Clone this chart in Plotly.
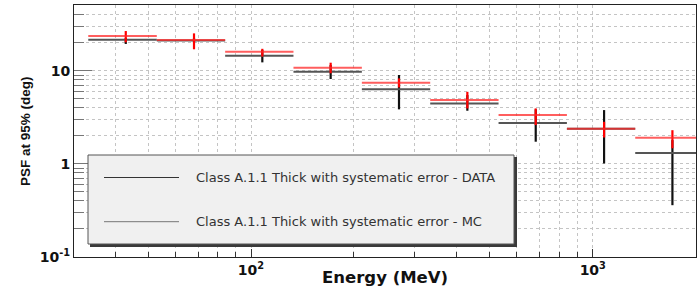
import plotly.graph_objects as go

# ---- data ----
energy_center = [43.0, 68.1, 107.9, 171.0, 271.0, 429.5, 680.8, 1079.0, 1710.0]
bin_low = [33.4, 53.0, 84.0, 133.1, 211.0, 334.4, 530.0, 840.0, 1331.0]
bin_high = [53.0, 84.0, 133.1, 211.0, 334.4, 530.0, 840.0, 1331.0, 2110.0]

data_psf = [23.6, 21.4, 16.0, 10.8, 7.43, 4.84, 3.34, 2.38, 1.91]
data_upper = [26.7, 25.2, 17.2, 12.2, 8.28, 5.94, 3.94, 2.83, 2.30]
data_lower = [20.2, 17.0, 14.2, 9.4, 6.62, 3.94, 2.61, 1.92, 1.47]

mc_psf = [21.5, 21.1, 14.5, 9.76, 6.31, 4.46, 2.74, 2.38, 1.31]
mc_upper = [22.5, 22.4, 16.7, 11.5, 9.0, 5.48, 3.85, 3.78, 1.80]
mc_lower = [19.4, 20.0, 12.3, 8.15, 3.85, 3.72, 1.73, 1.01, 0.36]

x_tick_vals = [100, 1000]
x_tick_text = ["10<sup>2</sup>", "10<sup>3</sup>"]
x_minor_vals = [40, 50, 60, 70, 80, 90, 200, 300, 400, 500, 600, 700, 800, 900, 2000]
y_tick_vals = [0.1, 1, 10]
y_tick_text = ["10<sup>-1</sup>", "1", "10"]
y_minor_vals = [0.2, 0.3, 0.4, 0.5, 0.6, 0.7, 0.8, 0.9,
                2, 3, 4, 5, 6, 7, 8, 9, 20, 30, 40, 50]

legend_labels = ["Class A.1.1 Thick with systematic error - DATA",
                 "Class A.1.1 Thick with systematic error - MC"]

W, H = 698, 286
ML, MR, MT, MB = 74, 2, 5, 29
PW, PH = W - ML - MR, H - MT - MB


def px(x):
    return (x - ML) / PW


def py(y):
    return (H - MB - y) / PH


def errs(center, lo, hi):
    return ([h - c for c, h in zip(center, hi)], [c - l for c, l in zip(center, lo)])


fig = go.Figure()

mx_p, mx_m = errs(energy_center, bin_low, bin_high)
my_p, my_m = errs(mc_psf, mc_lower, mc_upper)
fig.add_trace(go.Scatter(
    x=energy_center, y=mc_psf, mode="markers",
    marker=dict(size=1, color="rgba(0,0,0,0)"),
    error_x=dict(type="data", symmetric=False, array=mx_p, arrayminus=mx_m,
                 color="#555555", thickness=2, width=0),
    error_y=dict(type="data", symmetric=False, array=my_p, arrayminus=my_m,
                 color="#111111", thickness=2.2, width=0),
    showlegend=False, hoverinfo="skip"))

dy_p, dy_m = errs(data_psf, data_lower, data_upper)
fig.add_trace(go.Scatter(
    x=energy_center, y=data_psf, mode="markers",
    marker=dict(size=1, color="rgba(0,0,0,0)"),
    error_x=dict(type="data", symmetric=False, array=mx_p, arrayminus=mx_m,
                 color="rgba(255,40,40,0.75)", thickness=2, width=0),
    error_y=dict(type="data", symmetric=False, array=dy_p, arrayminus=dy_m,
                 color="#ff0000", thickness=2.2, width=0),
    showlegend=False, hoverinfo="skip"))

grid = dict(showgrid=True, gridcolor="#c4c4c4", gridwidth=1, griddash="dot")

fig.update_xaxes(
    type="log", range=[1.482, 3.302],
    tickmode="array", tickvals=x_tick_vals, ticktext=x_tick_text,
    ticks="inside", ticklen=8, tickcolor="#333", tickwidth=1,
    tickfont=dict(family="DejaVu Sans", size=14, color="#111", weight="bold"),
    showline=True, linecolor="#222", linewidth=1, mirror=True,
    minor=dict(tickvals=x_minor_vals, ticks="inside", ticklen=5, tickcolor="#333",
               showgrid=True, gridcolor="#c4c4c4", griddash="dot"),
    zeroline=False, **grid)
fig.update_yaxes(
    type="log", range=[-1, 1.706],
    tickmode="array", tickvals=y_tick_vals, ticktext=y_tick_text,
    ticks="inside", ticklen=18, tickcolor="#777", tickwidth=1,
    tickfont=dict(family="DejaVu Sans", size=14, color="#111", weight="bold"),
    showline=True, linecolor="#222", linewidth=1, mirror=True,
    minor=dict(tickvals=y_minor_vals, ticks="inside", ticklen=10, tickcolor="#777",
               showgrid=True, gridcolor="#c4c4c4", griddash="dot"),
    zeroline=False, **grid)

shapes = []
# legend shadow + box
shapes.append(dict(type="rect", xref="paper", yref="paper",
                   x0=px(90), x1=px(517), y0=py(247), y1=py(157),
                   fillcolor="#3a3a3a", line=dict(width=0), layer="above"))
shapes.append(dict(type="rect", xref="paper", yref="paper",
                   x0=px(88), x1=px(514), y0=py(244), y1=py(155),
                   fillcolor="#f0f0f0", line=dict(color="#555", width=1), layer="above"))
shapes.append(dict(type="line", xref="paper", yref="paper",
                   x0=px(104), x1=px(179), y0=py(177.5), y1=py(177.5),
                   line=dict(color="#333", width=1), layer="above"))
shapes.append(dict(type="line", xref="paper", yref="paper",
                   x0=px(104), x1=px(179), y0=py(221.7), y1=py(221.7),
                   line=dict(color="#777", width=1), layer="above"))

annotations = [
    dict(text=legend_labels[0], xref="paper", yref="paper", x=px(194), y=py(177.5),
         xanchor="left", yanchor="middle", showarrow=False,
         font=dict(family="DejaVu Sans", size=13, color="#333")),
    dict(text=legend_labels[1], xref="paper", yref="paper", x=px(194), y=py(221.7),
         xanchor="left", yanchor="middle", showarrow=False,
         font=dict(family="DejaVu Sans", size=13, color="#333")),
    dict(text="Energy (MeV)", xref="paper", yref="paper", x=px(385), y=py(277.5),
         xanchor="center", yanchor="middle", showarrow=False,
         font=dict(family="DejaVu Sans", size=16.5, color="#111", weight="bold")),
    dict(text="PSF at 95% (deg)", xref="paper", yref="paper", x=px(25), y=py(131),
         xanchor="center", yanchor="middle", textangle=-90, showarrow=False,
         font=dict(family="Liberation Sans", size=13.5, color="#111", weight="bold")),
]

fig.update_layout(
    width=W, height=H,
    margin=dict(l=ML, r=MR, t=MT, b=MB, autoexpand=False),
    paper_bgcolor="white", plot_bgcolor="white",
    shapes=shapes, annotations=annotations,
    showlegend=False,
)

fig.write_html("out.html", config={"displayModeBar": False},
               post_script="document.body.style.margin='0';document.body.style.overflow='hidden';")
